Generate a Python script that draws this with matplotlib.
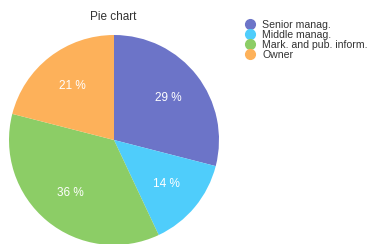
import matplotlib.pyplot as plt
from matplotlib.lines import Line2D

# --- Datos ---
labels = ["Senior manag.", "Middle manag.", "Mark. and pub. inform.", "Owner"]
values = [29, 14, 36, 21]
colors = ["#6c74c8", "#4fcdfb", "#8ccd66", "#fdb15a"]

plt.rcParams['font.family'] = ['Liberation Sans', 'DejaVu Sans']

W, H = 369, 244
fig = plt.figure(figsize=(W / 100, H / 100), dpi=100)

# Pie: centro (114, 140) px desde arriba, radio 105 px
cx, cy, r = 114, 140, 105
ax = fig.add_axes([(cx - r) / W, (H - cy - r) / H, 2 * r / W, 2 * r / H])
wedges, texts, autotexts = ax.pie(
    values, colors=colors, startangle=90, counterclock=False,
    autopct=lambda p: f"{p:.0f} %", pctdistance=0.65,
    wedgeprops=dict(linewidth=0),
    textprops=dict(color="white", fontsize=8.5))
ax.set_xlim(-1, 1)
ax.set_ylim(-1, 1)
ax.set_aspect('equal')
ax.axis('off')

fig.text(113 / W, 1 - 17 / H, "Pie chart", ha='center', va='center',
         fontsize=8.5, color="#333333")

handles = [Line2D([], [], marker='o', linestyle='', markersize=7,
                  markerfacecolor=c, markeredgecolor=c) for c in colors]
fig.legend(handles, labels, loc='upper left', bbox_to_anchor=(244 / W, 1 - 20 / H),
           frameon=False, fontsize=7.6, handletextpad=0.55, labelspacing=0.0,
           borderpad=0, borderaxespad=0, handlelength=1.2, labelcolor="#333333")

fig.savefig("out.png", dpi=100)
